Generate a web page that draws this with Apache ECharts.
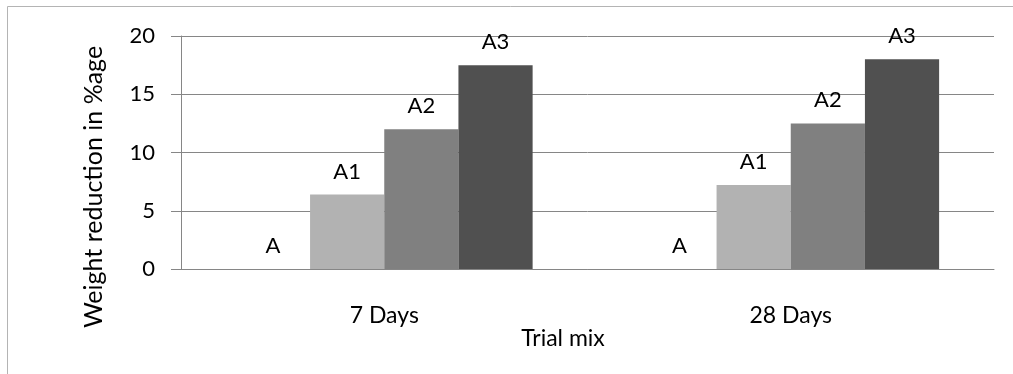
<!DOCTYPE html>
<html>
<head>
<meta charset="utf-8">
<script src="https://cdn.jsdelivr.net/npm/echarts@6/dist/echarts.min.js"></script>
<style>
html,body{margin:0;padding:0;background:#fff;}
#c{width:1013px;height:374px;}
</style>
</head>
<body>
<div id="c"></div>
<script>
const categories = ['7 Days', '28 Days'];
const seriesNames = ['A', 'A1', 'A2', 'A3'];
const valuesA = [0, 0];
const valuesA1 = [6.4, 7.2];
const valuesA2 = [12.0, 12.5];
const valuesA3 = [17.5, 18.0];
const yTicks = [0, 5, 10, 15, 20];
const colors = ['#ffffff', '#b2b2b2', '#808080', '#505050'];

const FONT = 'Lato';
const allValues = [valuesA, valuesA1, valuesA2, valuesA3];

const chart = echarts.init(document.getElementById('c'), null, {renderer: 'canvas'});
chart.setOption({
  animation: false,
  backgroundColor: '#ffffff',
  textStyle: {fontFamily: FONT},
  grid: {left: 181, right: 19, top: 36, bottom: 105, containLabel: false},
  xAxis: {
    type: 'category',
    data: categories,
    axisLine: {show: true, lineStyle: {color: '#868686', width: 1}},
    axisTick: {show: false},
    axisLabel: {fontSize: 23, color: '#000', margin: 35, fontFamily: FONT}
  },
  yAxis: {
    type: 'value',
    min: yTicks[0],
    max: yTicks[yTicks.length - 1],
    interval: 5,
    axisLine: {show: true, lineStyle: {color: '#868686', width: 1}},
    axisTick: {show: true, length: 10, lineStyle: {color: '#868686'}},
    splitLine: {show: true, lineStyle: {color: '#868686', width: 1}},
    axisLabel: {fontSize: 22, color: '#000', margin: 26, fontFamily: FONT}
  },
  graphic: [
    {type: 'rect', shape: {x: 7.5, y: 6.5, width: 1200, height: 600}, style: {fill: 'none', stroke: '#b4b4b4', lineWidth: 1}, z: -10, silent: true},
    {type: 'text', x: 94, y: 187, rotation: Math.PI / 2, style: {text: 'Weight reduction in %age', fontSize: 25, fontFamily: FONT, fill: '#000', align: 'center', verticalAlign: 'middle'}},
    {type: 'text', x: 563, y: 339, style: {text: 'Trial mix', fontSize: 23, fontFamily: FONT, fill: '#000', align: 'center', verticalAlign: 'middle'}}
  ],
  series: seriesNames.map((name, i) => ({
    name: name,
    type: 'bar',
    data: allValues[i],
    barGap: '0%',
    barCategoryGap: '27%',
    itemStyle: {color: colors[i]},
    label: {show: true, position: 'top', distance: 12, formatter: name, fontSize: 22, color: '#000', fontFamily: FONT}
  }))
});
</script>
</body>
</html>
